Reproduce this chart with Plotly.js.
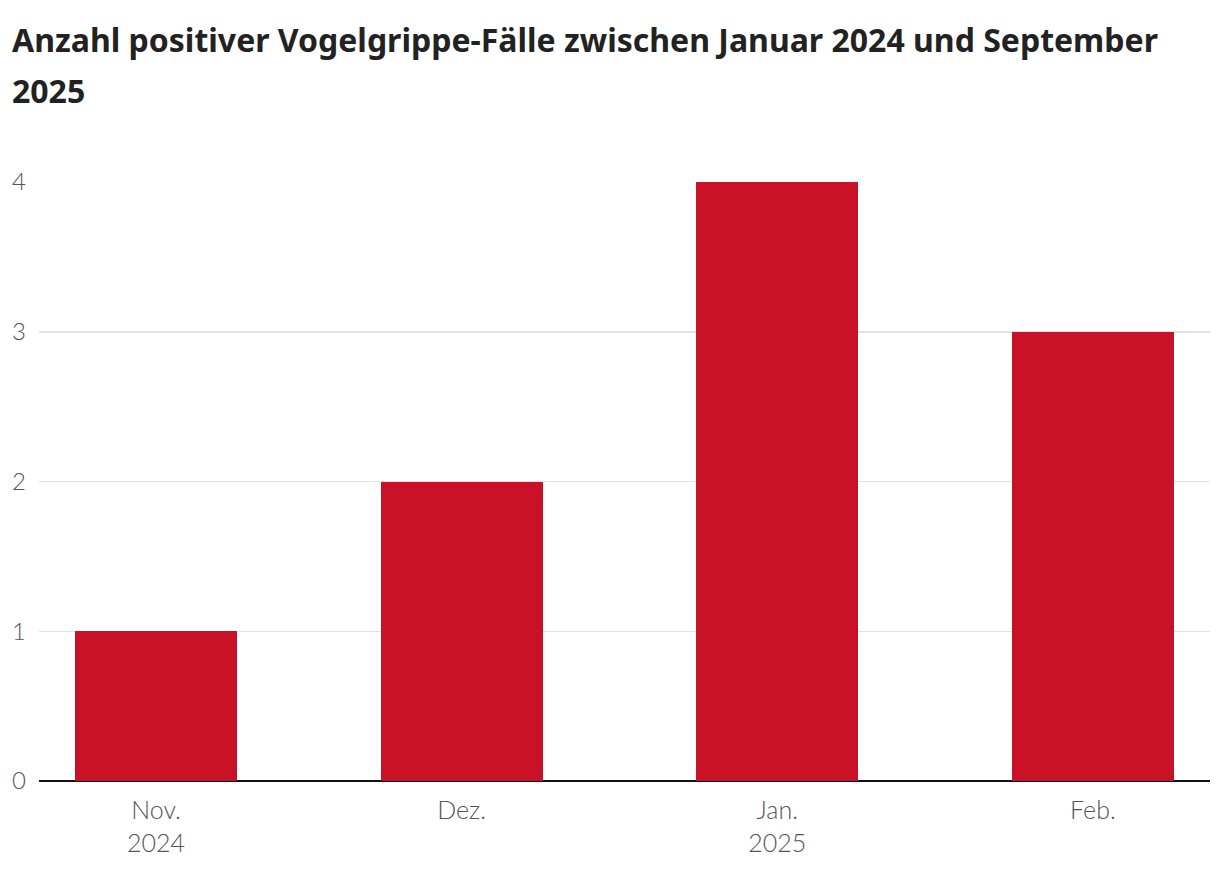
<!DOCTYPE html>
<html>
<head>
<meta charset="utf-8">
<script src="https://cdn.plot.ly/plotly-3.0.1.min.js"></script>
<style>
  html, body { margin: 0; padding: 0; background: #fff; }
  #chart { width: 1220px; height: 880px; }
</style>
</head>
<body>
<div id="chart"></div>
<script>
// data
const months = ["2024-11-01", "2024-12-01", "2025-01-01", "2025-02-01"];
const cases = [1, 2, 4, 3];
const monthLabels = ["Nov.<br>2024", "Dez.", "Jan.<br>2025", "Feb."];
const yTicks = [0, 1, 2, 3, 4];
const titleLines = ["Anzahl positiver Vogelgrippe-Fälle zwischen Januar 2024 und September", "2025"];

const barColor = "#c91127";
const dayMs = 86400000;

// plot area runs from y=182px (top) to y=781px (bottom)
const plotTop = 182, plotBottom = 781;
const toPaperY = px => (plotBottom - px) / (plotBottom - plotTop);

const trace = {
    type: "bar",
    x: months,
    y: cases,
    width: months.map(() => 15.9 * dayMs),
    marker: { color: barColor },
    hoverinfo: "x+y"
};

const titleFont = { family: "'Noto Sans', Roboto, sans-serif", size: 32, color: "#222" };

const layout = {
    width: 1220,
    height: 880,
    margin: { l: 39, r: 10, t: plotTop, b: 880 - plotBottom },
    paper_bgcolor: "#fff",
    plot_bgcolor: "#fff",
    showlegend: false,
    annotations: titleLines.map((line, i) => ({
        text: "<b>" + line + "</b>",
        font: titleFont,
        showarrow: false,
        xref: "paper", yref: "paper",
        x: -29 / 1171, xanchor: "left",
        y: toPaperY(39 + i * 52), yanchor: "middle"
    })),
    xaxis: {
        type: "date",
        range: ["2024-10-20 12:00", "2025-02-12 12:00"],
        tickmode: "array",
        tickvals: months,
        ticktext: monthLabels,
        showgrid: false,
        zeroline: false,
        showline: false,
        ticks: "",
        ticklabelstandoff: 12,
        tickfont: { family: "Lato, 'Open Sans', sans-serif", size: 25, color: "#555", weight: 300 }
    },
    yaxis: {
        range: [0, 4],
        tickmode: "array",
        tickvals: yTicks,
        showgrid: true,
        gridcolor: "#e2e2e2",
        gridwidth: 1.5,
        zeroline: true,
        zerolinecolor: "#111",
        zerolinewidth: 2.5,
        ticks: "",
        ticklabelstandoff: 12,
        tickfont: { family: "Lato, 'Open Sans', sans-serif", size: 24, color: "#555", weight: 300 }
    },
    bargap: 0
};

Plotly.newPlot("chart", [trace], layout, { displayModeBar: false, staticPlot: true });
</script>
</body>
</html>
